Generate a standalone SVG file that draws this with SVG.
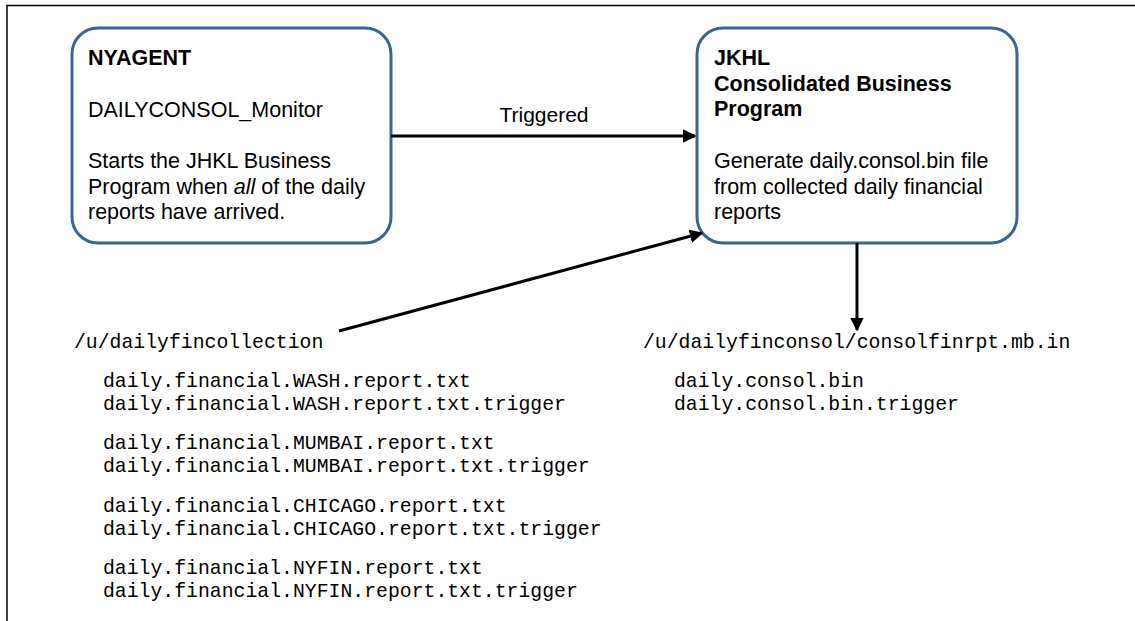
<svg xmlns="http://www.w3.org/2000/svg" width="1135" height="621" viewBox="0 0 1135 621">
<style>
.box{fill:#ffffff;stroke:#3a6496;stroke-width:3}
.t{font-family:"Liberation Sans",Arial,sans-serif;font-size:21.5px;fill:#000}
.b{font-weight:bold}
.m{font-family:"Liberation Mono","Courier New",monospace;font-size:19.8px;fill:#000}
.c{stroke:#000;stroke-width:3;fill:none}
</style>
<defs>
<marker id="ah" viewBox="0 0 10 10" refX="9" refY="5" markerWidth="4.5" markerHeight="4.5" orient="auto" markerUnits="strokeWidth">
<path d="M0,0 L10,5 L0,10 z" fill="#000"/>
</marker>
</defs>
<rect x="0" y="0" width="1135" height="621" fill="#fff"/>
<path d="M7,621 V5.5 H1135" fill="none" stroke="#000" stroke-width="1.5"/>
<g id="nyagent">
<rect class="box" x="72" y="28" width="319" height="215" rx="26" ry="26"/>
<text class="t b" x="88" y="65">NYAGENT</text>
<text class="t" x="88" y="117">DAILYCONSOL_Monitor</text>
<text class="t" x="88" y="168">Starts the JHKL Business</text>
<text class="t" x="88" y="193.5">Program when <tspan font-style="italic">all</tspan> of the daily</text>
<text class="t" x="88" y="219">reports have arrived.</text>
</g>
<g id="jkhl">
<rect class="box" x="697" y="28" width="320" height="215" rx="26" ry="26"/>
<text class="t b" x="714" y="65">JKHL</text>
<text class="t b" x="714" y="90.5">Consolidated Business</text>
<text class="t b" x="714" y="116">Program</text>
<text class="t" x="714" y="168">Generate daily.consol.bin file</text>
<text class="t" x="714" y="193.5">from collected daily financial</text>
<text class="t" x="714" y="219">reports</text>
</g>
<g id="connectors">
<line class="c" x1="391" y1="136" x2="695" y2="136" marker-end="url(#ah)"/>
<text class="t" x="544" y="122" text-anchor="middle" style="font-size:21px">Triggered</text>
<line class="c" x1="339" y1="331" x2="702" y2="233" marker-end="url(#ah)"/>
<line class="c" x1="857" y1="243" x2="857" y2="330" marker-end="url(#ah)"/>
</g>
<g id="collection">
<text class="m" x="74" y="348">/u/dailyfincollection</text>
<text class="m" x="103" y="387">daily.financial.WASH.report.txt</text>
<text class="m" x="103" y="410">daily.financial.WASH.report.txt.trigger</text>
<text class="m" x="103" y="449">daily.financial.MUMBAI.report.txt</text>
<text class="m" x="103" y="472">daily.financial.MUMBAI.report.txt.trigger</text>
<text class="m" x="103" y="512">daily.financial.CHICAGO.report.txt</text>
<text class="m" x="103" y="535">daily.financial.CHICAGO.report.txt.trigger</text>
<text class="m" x="103" y="574">daily.financial.NYFIN.report.txt</text>
<text class="m" x="103" y="597">daily.financial.NYFIN.report.txt.trigger</text>
</g>
<g id="consol">
<text class="m" x="643" y="348">/u/dailyfinconsol/consolfinrpt.mb.in</text>
<text class="m" x="674" y="387">daily.consol.bin</text>
<text class="m" x="674" y="410">daily.consol.bin.trigger</text>
</g>
</svg>
